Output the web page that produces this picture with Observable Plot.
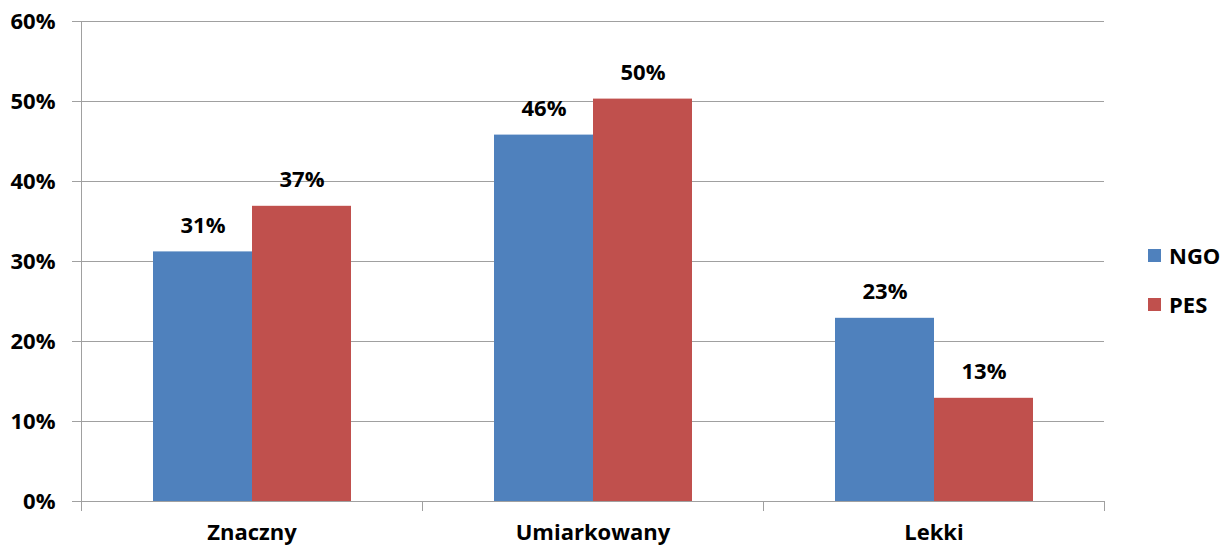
<!DOCTYPE html>
<html>
<head>
<meta charset="utf-8">
<script src="https://cdn.jsdelivr.net/npm/d3@7"></script>
<script src="https://cdn.jsdelivr.net/npm/@observablehq/plot@0.6"></script>
<style>
  html, body { margin: 0; padding: 0; background: #fff; }
  #wrap { position: relative; width: 1222px; height: 547px; overflow: hidden; font-family: "Open Sans", sans-serif; font-weight: bold; }
  #legend { position: absolute; left: 1148px; top: 240px; font-size: 22px; color: #000; }
  #legend div { display: flex; align-items: center; height: 30px; margin-bottom: 19px; }
  #legend span.sw { display: inline-block; width: 13px; height: 13px; margin-right: 8px; }
</style>
</head>
<body>
<div id="wrap"><div id="legend"></div></div>
<script>
const categories = ["Znaczny", "Umiarkowany", "Lekki"];
const series = ["NGO", "PES"];
const ngoValues = [0.312, 0.458, 0.229];
const pesValues = [0.369, 0.503, 0.129];
const yTicks = [0, 0.1, 0.2, 0.3, 0.4, 0.5, 0.6];
const colors = ["#4F81BD", "#C0504D"];

const data = categories.flatMap((c, i) => [
  {category: c, series: series[0], value: ngoValues[i]},
  {category: c, series: series[1], value: pesValues[i]}
]);
const pct = d3.format(".0%");
const gridColor = "#a0a0a0";

const chart = Plot.plot({
  width: 1222,
  height: 547,
  marginLeft: 80,
  marginRight: 117,
  marginTop: 21,
  marginBottom: 46,
  style: {fontFamily: "'Open Sans', sans-serif", fontWeight: "bold", fontSize: "22px", color: "#000", background: "#fff", overflow: "visible"},
  fx: {domain: categories, padding: 0, label: null, axis: "bottom", tickSize: 0, tickPadding: 23},
  x: {domain: series, paddingInner: 0, paddingOuter: 0.72, axis: null},
  y: {domain: [0, 0.6], axis: null},
  color: {domain: series, range: colors},
  marks: [
    Plot.gridY(yTicks, {stroke: gridColor, strokeOpacity: 1}),
    Plot.axisY(yTicks, {tickFormat: pct, tickSize: 9, tickPadding: 17, stroke: gridColor, fill: "#000", label: null}),
    Plot.frame({anchor: "left", facetAnchor: "left", stroke: gridColor, insetBottom: -9}),
    Plot.frame({anchor: "left", stroke: gridColor, insetTop: 480, insetBottom: -9}),
    Plot.frame({anchor: "right", stroke: gridColor, insetTop: 480, insetBottom: -9}),
    Plot.barY(data, {fx: "category", x: "series", y: "value", fill: "series"}),
    Plot.text(data, {fx: "category", x: "series", y: "value", text: d => pct(d.value), dy: -26, fill: "#000"})
  ]
});
document.getElementById("wrap").prepend(chart);

const legend = document.getElementById("legend");
series.forEach((s, i) => {
  const row = document.createElement("div");
  const sw = document.createElement("span");
  sw.className = "sw";
  sw.style.background = colors[i];
  row.appendChild(sw);
  row.appendChild(document.createTextNode(s));
  legend.appendChild(row);
});
</script>
</body>
</html>
